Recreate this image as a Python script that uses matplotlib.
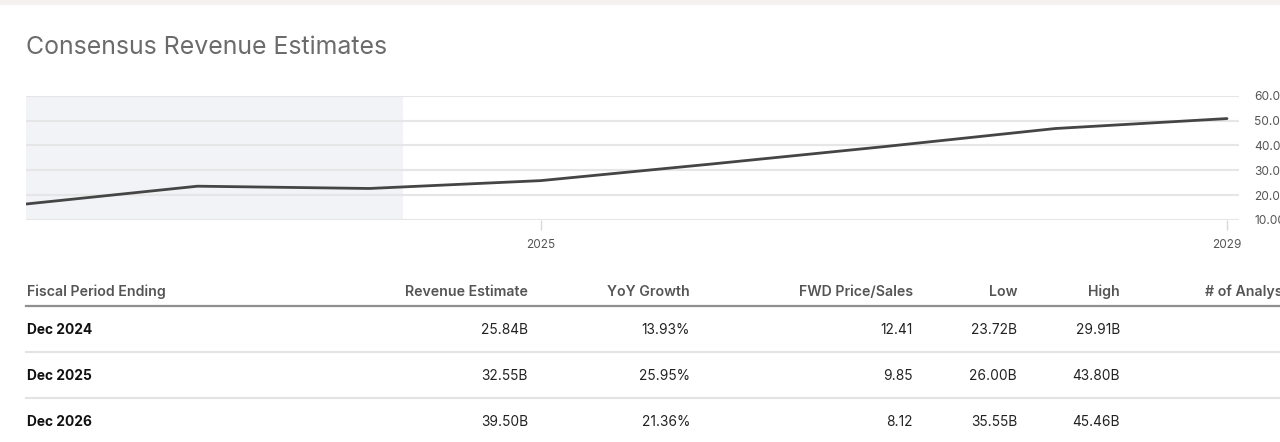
import matplotlib
matplotlib.use("Agg")
import matplotlib.pyplot as plt
from matplotlib.patches import Rectangle

plt.rcParams['font.family'] = ['Inter', 'DejaVu Sans']

# ---- data ----
fiscal_years = [2021, 2022, 2023, 2024, 2025, 2026, 2027, 2028]
revenue_b = [16.43, 23.60, 22.68, 25.84, 32.55, 39.50, 46.80, 50.80]
history_end = 2024.196          # shaded "actuals" region ends here (decimal year)
x_ticks = [2025, 2029]
y_ticks = [10, 20, 30, 40, 50, 60]
y_tick_labels = ["10.00B", "20.00B", "30.00B", "40.00B", "50.00B", "60.00B"]

col_headers = ["Fiscal Period Ending", "Revenue Estimate", "YoY Growth",
               "FWD Price/Sales", "Low", "High", "# of Analysts"]
periods = ["Dec 2024", "Dec 2025", "Dec 2026"]
rev_est = ["25.84B", "32.55B", "39.50B"]
yoy_growth = ["13.93%", "25.95%", "21.36%"]
fwd_ps = ["12.41", "9.85", "8.12"]
low_est = ["23.72B", "26.00B", "35.55B"]
high_est = ["29.91B", "43.80B", "45.46B"]

W, H = 1280, 442
fig = plt.figure(figsize=(W / 100, H / 100), dpi=100)
fig.patch.set_facecolor("white")

def fx(px):
    return px / W

def fy(py):
    return 1 - py / H

# ---- chart axes ----
ax_l, ax_r, ax_t, ax_b = 26, 1239, 95.7, 220
ax = fig.add_axes([fx(ax_l), fy(ax_b), fx(ax_r - ax_l), (ax_b - ax_t) / H])
xpos = [y + 1.0 for y in fiscal_years]   # December year-end plotted at start of next year
x0 = xpos[0]
px_per_year = (1227 - 26) / (xpos[-1] - xpos[0])
ax.set_xlim(x0, x0 + (ax_r - ax_l) / px_per_year)
ax.set_ylim(10, 60)
ax.axvspan(x0, history_end, color="#f2f3f7", zorder=0, lw=0)
for yv in y_ticks:
    ax.axhline(yv, color="#e6e6e6", lw=1.5, zorder=1)
ax.plot(xpos, revenue_b, color="#454545", lw=2.0, zorder=3, solid_capstyle="round")

for s in ax.spines.values():
    s.set_visible(False)
ax.set_xticks(x_ticks)
ax.set_xticklabels([str(t) for t in x_ticks])
ax.tick_params(axis="x", length=7.2, width=1, color="#d9d9d9", labelsize=8.5,
               labelcolor="#555555", pad=6.5)
ax.yaxis.tick_right()
ax.set_yticks(y_ticks)
ax.set_yticklabels(y_tick_labels)
ax.tick_params(axis="y", length=0, labelsize=8.6, labelcolor="#555555", pad=11)
ax.set_facecolor("none")

# ---- overlay for title / table ----
ov = fig.add_axes([0, 0, 1, 1], zorder=-1)
ov.set_xlim(0, W)
ov.set_ylim(H, 0)
ov.axis("off")
ov.add_patch(Rectangle((0, 0), W, 5, color="#f6f1f1", lw=0))
ov.text(26, 48, "Consensus Revenue Estimates", fontsize=17.9, color="#6b6b6b",
        ha="left", va="center")

header_y = 292
col_x = [27, 528, 690, 913, 1017, 1120, 1205]
col_ha = ["left", "right", "right", "right", "right", "right", "left"]
for txt, x, ha in zip(col_headers, col_x, col_ha):
    ov.text(x, header_y, txt, fontsize=10.2, fontweight="semibold", color="#555555",
            ha=ha, va="center")
ov.plot([26, W], [306, 306], color="#8f8f8f", lw=1.6)

row_y = [329.5, 376.5, 421.5]
for i, ry in enumerate(row_y):
    ov.text(27, ry, periods[i], fontsize=9.9, fontweight="bold", color="#111111",
            ha="left", va="center")
    for vals, x in zip([rev_est, yoy_growth, fwd_ps, low_est, high_est], col_x[1:6]):
        ov.text(x, ry, vals[i], fontsize=9.9, color="#222222", ha="right", va="center")
for sy in [352, 398]:
    ov.plot([26, W], [sy, sy], color="#e3e3e3", lw=1.5)

fig.savefig("out.png", dpi=100)
